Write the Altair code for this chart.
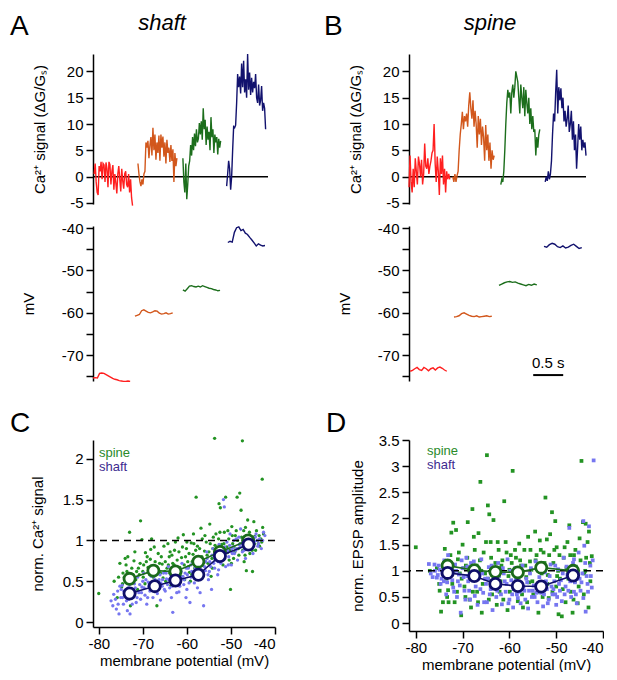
import altair as alt
import pandas as pd

FONT = "Liberation Sans"

# ---------------- Panels A / B : example traces ----------------
TRACE_IDS = ["red", "orange", "green", "navy"]
TRACE_COLORS = ["#ff1f1f", "#d2571c", "#1c6e1c", "#12126e"]

# A (shaft) Ca2+ signal, dG/Gs
CA_SHAFT = [
    [0.5, 2.5, -1, -3, -3.5, 2, 1, 2.8, -0.5, 2.5, 2.2, -1, 2.7, 1.5, -2, 2.8, 2.3, -1.5, 1, 2.2,
     -2.5, 0.5, -1.2, -3.2, 0.5, 2, -0.5, -2.8, 1.5, -0.8, -2.3, 0.5, 1, -1.5, -2, 0.5, -3, -0.5, -4, -5.5],
    [2.5, 0.5, -1, -1.8, -0.5, -1.5, 0.5, 1, 6.5, 5.5, 6.8, 3.5, 6, 7.5, 4, 9.3, 5, 8, 3.2, 6.5,
     4.5, 7.8, 3, 8, 5.5, 7.6, 3.8, 6.5, 2.5, 7, 4.5, 5.5, 2.8, 6, 3, 5.2, -1, 4.5, 2, 3.5],
    [3.5, -1, -3, 2.5, -4.3, -1.5, 2, 3, 6, 4, 7.5, 5, 8.2, 5.8, 9, 6.5, 7.2, 10.2, 8, 10.5,
     7, 13, 9, 10.8, 6, 9.5, 7, 8.5, 5, 11.3, 7.5, 9, 4.5, 8, 6.5, 7.5, 4.2, 7.2, 5.5, 6.8],
    [-1.8, 0.5, 3, 1.5, -2.5, 0, 5, 9.5, 9.3, 9.8, 14, 19.5, 17, 19, 15.8, 21.5, 17, 22, 16, 18.5,
     15, 23.3, 16.5, 19.8, 15.5, 18.8, 16, 18, 16.8, 19.5, 15, 14, 17.5, 13.5, 14.5, 17.2, 12.5, 14, 13, 9],
]
CA_SHAFT_T = [(0.02, 0.66), (0.75, 1.40), (1.50, 2.13), (2.23, 2.88)]

# B (spine) Ca2+ signal
CA_SPINE = [
    [-2, 4, -1, -3, 1.5, -2, 3.5, 1, -1.5, 3.8, 2.5, 0, 3.2, -1.5, 0.5, 6.3, 2, 1.5, 3.5, 0.5,
     2, 3, 4.5, 5, 10, 2.5, -1, 3.8, 1, -3.5, 3.5, 0.5, 4, -1.5, 1.5, -3, 1, -0.5, 0.5, -0.5],
    [0, -1, 0.5, -1, 0.2, 1, 5, 8, 10, 12.3, 9, 11.5, 10.5, 12, 9.5, 13.5, 16, 13, 11, 14.5,
     9.5, 12.5, 10, 5.5, 11.5, 8, 11, 6, 9.5, 7.5, 3, 9.8, 5, 8, 3, 6.5, 1.5, 5, 3.2, 4],
    [-1.5, -0.5, -1, 1, 5, 10, 14, 16.5, 15, 16, 12, 16, 17.5, 15, 17, 20, 19, 18, 15, 12,
     17.5, 15, 13, 17, 11.5, 16.5, 14, 12, 15, 10, 13, 9, 11.5, 8.5, 9, 4, 7.5, 5.5, 8, 9],
    [-1, 0, -0.8, 1, -0.5, 0.5, 3, 8, 12, 10.5, 16, 20.3, 12, 17, 14.5, 16.8, 13, 15, 10.5, 12.5,
     9.5, 11, 13.5, 8.5, 10, 12.5, 7, 10.5, 5, 8, 1.5, 5.5, 10, 7, 9.5, 5, 7, 5.5, 6.5, 4],
]
CA_SPINE_T = [(0.0, 0.68), (0.73, 1.42), (1.53, 2.18), (2.27, 2.95)]

# membrane potential traces (mV)
MV_SHAFT = [
    [-75.4, -75.3, -75.4, -74.3, -74.2, -74.3, -74.6, -74.9, -75.2, -75.5, -75.7, -75.8, -76.0, -76.1, -76.2, -76.2, -76.1, -76.2],
    [-60.8, -60.6, -60.4, -59.5, -59.3, -59.6, -59.9, -60.0, -59.8, -59.5, -59.6, -60.1, -60.3, -60.2, -60.0, -60.3, -60.2, -60.0],
    [-54.6, -54.9, -54.3, -53.7, -53.6, -53.8, -53.9, -53.7, -53.9, -53.6, -53.8, -54.0, -54.2, -54.3, -54.5, -54.6, -54.8, -54.7],
    [-43.4, -43.1, -43.3, -41.0, -39.9, -39.7, -40.6, -40.3, -41.2, -41.5, -42.2, -42.8, -43.5, -44.2, -43.7, -44.0, -44.2, -44.1],
]
MV_SHAFT_T = [(0.0, 0.62), (0.70, 1.33), (1.50, 2.12), (2.25, 2.87)]

MV_SPINE = [
    [-73.8, -73.6, -73.2, -72.9, -73.4, -73.6, -72.9, -73.2, -73.7, -73.2, -73.0, -73.5, -73.0, -72.8, -73.1, -73.5, -73.8],
    [-61.0, -60.9, -60.7, -60.2, -60.0, -60.3, -60.6, -60.8, -60.9, -60.7, -61.0, -60.9, -60.8, -60.7, -60.9, -60.8],
    [-53.5, -53.2, -52.9, -52.7, -52.6, -52.8, -52.7, -53.0, -53.2, -53.4, -53.6, -53.3, -53.5, -53.2, -53.4],
    [-44.3, -44.5, -43.9, -43.6, -43.8, -44.4, -44.6, -44.2, -44.7, -44.5, -44.1, -43.8, -44.3, -44.8, -44.6],
]
MV_SPINE_T = [(0.02, 0.63), (0.75, 1.38), (1.50, 2.13), (2.25, 2.88)]

SCALE_BAR_T = [2.07, 2.57]
SCALE_BAR_MV = -74.7
SCALE_BAR_LABEL = "0.5 s"
SCALE_BAR_LABEL_MV = -73.1

# ---------------- Panel C : norm. Ca2+ signal vs membrane potential ----------------
C_SPINE_X = [-80.0, -76.5, -75.8, -75.2, -74.8, -74.5, -74.0, -73.6, -73.2, -73.0, -72.8, -72.5, -72.0, -71.6, -71.2,
             -70.8, -70.5, -70.2, -69.8, -69.5, -69.0, -68.6, -68.2, -68.0, -67.6, -67.2, -66.8, -66.5, -66.0, -65.6,
             -65.2, -64.8, -64.5, -64.0, -63.6, -63.2, -62.8, -62.4, -62.0, -61.6, -61.2, -60.8, -60.5, -60.1, -59.8,
             -59.4, -59.0, -58.6, -58.2, -57.9, -57.6, -57.2, -56.8, -56.4, -56.0, -55.6, -55.2, -54.8, -54.5, -54.1,
             -53.7, -53.4, -53.0, -52.7, -52.4, -52.1, -51.8, -51.5, -51.2, -50.8, -50.5, -50.1, -49.8, -49.4, -49.0,
             -48.6, -48.3, -48.0, -47.7, -47.4, -47.1, -46.8, -46.5, -46.2, -45.9, -45.5, -45.1, -44.8, -44.4, -44.0,
             -43.5, -42.9, -42.6,
             -74.2, -73.8, -72.2, -71.0, -70.0, -69.2, -68.4, -67.0, -66.2, -65.0, -64.2, -63.0, -62.2, -61.4, -60.3,
             -59.6, -58.8, -58.0, -57.4, -56.6, -55.8, -55.0, -54.3, -53.6, -52.9, -52.2, -51.6, -50.9, -50.3, -49.6,
             -49.1, -48.5, -47.9, -47.3, -46.6, -46.0, -45.3, -44.6, -43.8, -43.2, -61.0, -63.8, -66.6, -59.2, -56.9,
             -52.5, -54.0, -49.9, -47.0, -45.7,
             -75.5, -74.6, -73.4, -72.6, -71.8, -71.4, -70.6, -69.9, -69.4, -68.8, -68.3, -67.8, -67.4, -66.9, -66.4,
             -65.8, -65.4, -64.9, -64.3, -63.9, -63.4, -62.9, -62.6, -61.8, -61.3, -60.6, -60.0, -59.5, -58.9, -58.4,
             -57.8, -57.1, -56.5, -56.1, -55.4, -54.7, -54.2, -53.3, -52.8, -52.0, -51.4, -50.7, -50.4, -49.7, -49.3,
             -48.8, -48.2, -47.6, -47.2, -46.7, -46.3, -45.8, -45.2, -44.7, -44.2, -43.6, -43.0, -42.8, -55.9, -58.5]
C_SPINE_Y = [0.35, 0.50, 0.30, 0.72, 0.43, 0.60, 0.78, 0.62, 0.48, 1.10, 0.20, 0.66, 0.75, 0.52, 0.40,
             0.58, 1.24, 1.01, 0.70, 0.47, 0.80, 0.63, 0.89, 1.02, 0.55, 0.74, 0.20, 0.84, 0.60, 0.71,
             0.93, 0.50, 0.66, 0.80, 0.45, 0.72, 0.88, 0.58, 1.03, 0.67, 0.79, 1.07, 0.52, 0.90, 0.74,
             0.61, 0.97, 0.83, 0.66, 1.53, 0.93, 0.77, 1.15, 0.62, 0.87, 0.98, 0.72, 1.20, 0.56, 0.90,
             2.25, 1.08, 0.80, 1.45, 1.40, 0.95, 0.70, 1.10, 1.53, 0.85, 1.02, 0.40, 1.17, 0.78, 1.06,
             1.53, 0.90, 1.58, 1.37, 2.22, 1.12, 0.82, 0.63, 1.25, 0.96, 1.05, 0.62, 1.23, 0.88, 1.00,
             0.93, 1.75, 1.08,
             0.55, 0.70, 0.58, 0.66, 0.62, 0.74, 0.58, 0.66, 0.72, 0.62, 0.70, 0.64, 0.76, 0.60, 0.80,
             0.68, 0.74, 0.88, 0.70, 0.80, 0.74, 0.86, 0.78, 0.94, 0.88, 0.82, 0.96, 0.92, 0.88, 0.96,
             0.86, 1.00, 0.96, 0.88, 1.02, 0.90, 0.98, 1.05, 0.96, 1.02, 0.92, 0.86, 0.50, 0.50, 0.56,
             1.10, 1.04, 0.72, 0.74, 0.84,
             0.55, 0.47, 0.80, 0.52, 0.86, 0.62, 0.72, 0.55, 0.85, 0.67, 0.77, 0.48, 0.92, 0.68, 0.62,
             0.80, 0.54, 0.74, 0.96, 0.60, 0.82, 0.70, 0.98, 0.86, 0.56, 0.70, 0.98, 0.84, 0.58, 0.96,
             0.78, 0.90, 1.02, 0.74, 0.82, 0.96, 0.66, 0.86, 1.02, 0.76, 0.86, 1.12, 0.76, 1.06, 0.92,
             1.12, 0.82, 1.04, 0.96, 1.16, 0.92, 1.10, 0.88, 0.96, 1.12, 1.06, 0.98, 1.16, 1.06, 1.08]

C_SHAFT_X = [-77.2, -76.6, -76.0, -75.7, -75.4, -75.0, -74.7, -74.4, -74.1, -73.8, -73.5, -73.2, -72.9, -72.6, -72.2,
             -71.9, -71.5, -71.2, -70.9, -70.5, -70.2, -69.8, -69.5, -69.1, -68.8, -68.4, -68.1, -67.7, -67.4, -67.0,
             -66.7, -66.3, -66.0, -65.6, -65.3, -64.9, -64.6, -64.2, -63.9, -63.5, -63.2, -62.8, -62.5, -62.1, -61.8,
             -61.4, -61.1, -60.7, -60.4, -60.0, -59.7, -59.3, -59.0, -58.6, -58.3, -57.9, -57.6, -57.2, -56.9, -56.5,
             -56.2, -55.8, -55.5, -55.1, -54.8, -54.4, -54.1, -53.7, -53.4, -53.0, -52.7, -52.3, -52.0, -51.7, -51.5,
             -51.2, -50.9, -50.5, -50.2, -49.9, -49.5, -49.2, -48.8, -48.5, -48.1, -47.8, -47.4, -47.1, -46.7, -46.4,
             -46.0, -45.7, -45.3, -45.0, -44.6, -44.3, -43.9, -43.5, -43.1, -42.6, -42.3,
             -74.9, -73.0, -71.8, -70.0, -68.6, -67.2, -65.9, -64.4, -63.0, -61.9, -60.9, -59.9, -58.9, -57.8, -56.7,
             -55.7, -54.6, -53.6, -52.6, -51.9, -50.8, -49.8, -48.9, -47.9, -46.9, -45.9, -44.9, -44.0, -62.3, -60.2,
             -57.0, -55.2, -52.8, -50.6,
             -76.8, -76.2, -75.6, -75.2, -74.6, -74.3, -73.7, -73.3, -72.7, -72.4, -71.7, -71.3, -70.7, -70.3, -69.7,
             -69.3, -68.9, -68.3, -67.9, -67.5, -66.9, -66.5, -66.1, -65.5, -65.1, -64.7, -64.1, -63.7, -63.3, -62.7,
             -62.0, -61.6, -61.3, -60.6, -60.1, -59.5, -59.1, -58.5, -58.1, -57.5, -57.1, -56.6, -56.0, -55.4, -54.9,
             -54.3, -53.9, -53.3, -52.9, -52.4, -51.8, -51.4, -50.7, -50.3, -49.7, -49.3, -48.7, -48.2, -47.6, -47.0,
             -46.5, -45.5, -44.5, -43.7, -42.8]
C_SHAFT_Y = [0.26, 0.34, 0.16, 0.38, 0.10, 0.30, 0.45, 0.22, 0.52, 0.36, 0.14, 0.28, 0.10, 0.40, 0.32,
             0.47, 0.24, 0.55, 0.36, 0.28, 0.43, 0.60, 0.33, 0.22, 0.49, 0.38, 0.56, 0.30, 0.45, 0.62,
             0.35, 0.52, 0.27, 0.44, 0.60, 0.38, 0.53, 0.68, 0.42, 0.30, 0.12, 0.57, 0.47, 0.64, 0.37,
             0.54, 0.72, 0.46, 0.60, 0.40, 0.66, 0.24, 0.55, 0.73, 0.48, 0.62, 0.42, 0.80, 0.56, 0.70,
             0.20, 0.63, 0.86, 0.52, 0.74, 0.40, 0.90, 0.66, 0.80, 0.58, 0.95, 0.72, 0.86, 1.50, 1.41,
             0.68, 0.98, 0.80, 1.08, 0.70, 0.92, 0.84, 1.02, 0.76, 0.95, 1.14, 0.86, 1.00, 0.78, 1.06,
             0.90, 0.97, 1.04, 0.84, 0.99, 1.08, 0.93, 1.02, 0.90, 1.10, 1.06,
             0.40, 0.46, 0.36, 0.50, 0.44, 0.52, 0.48, 0.46, 0.50, 0.48, 0.56, 0.58, 0.62, 0.54, 0.64,
             0.74, 0.68, 0.76, 0.82, 0.78, 0.88, 0.90, 0.88, 0.92, 0.94, 1.00, 0.96, 1.00, 0.36, 0.30,
             0.36, 0.58, 0.64, 0.70,
             0.20, 0.28, 0.22, 0.44, 0.30, 0.38, 0.26, 0.42, 0.30, 0.22, 0.42, 0.30, 0.46, 0.36, 0.42,
             0.52, 0.30, 0.48, 0.40, 0.56, 0.44, 0.40, 0.58, 0.52, 0.40, 0.60, 0.52, 0.58, 0.44, 0.64,
             0.54, 0.44, 0.62, 0.52, 0.66, 0.48, 0.70, 0.58, 0.66, 0.72, 0.60, 0.76, 0.68, 0.78, 0.62,
             0.82, 0.72, 0.88, 0.74, 0.90, 0.82, 0.92, 0.86, 0.94, 0.84, 1.00, 0.90, 1.04, 0.96, 0.88,
             1.00, 0.92, 1.04, 0.96, 1.00]

C_SPINE_MEAN_X = [-73.0, -67.6, -62.6, -57.4, -52.5, -46.1]
C_SPINE_MEAN_Y = [0.53, 0.63, 0.62, 0.74, 0.86, 1.00]
C_SHAFT_MEAN_X = [-73.0, -67.3, -62.6, -57.4, -52.5, -46.0]
C_SHAFT_MEAN_Y = [0.35, 0.44, 0.51, 0.58, 0.81, 0.95]
C_SEM_Y = [0.05, 0.04, 0.04, 0.04, 0.05, 0.05]
C_SEM_X = [0.9, 0.8, 0.8, 0.8, 0.9, 0.9]

# ---------------- Panel D : norm. EPSP amplitude vs membrane potential ----------------
D_SPINE_X = [-80.0, -77.0, -75.0, -74.6, -74.2, -73.8, -73.5, -73.1, -72.8, -72.4, -72.0, -71.7, -71.4, -71.0, -70.6,
             -70.3, -70.0, -69.6, -69.3, -68.9, -68.5, -68.2, -67.9, -67.6, -67.2, -66.9, -66.6, -66.2, -65.9, -65.5,
             -65.2, -64.8, -64.6, -64.3, -64.0, -63.7, -63.4, -63.0, -62.7, -62.3, -61.9, -61.5, -61.1, -60.8, -60.4,
             -60.0, -59.7, -59.3, -59.0, -58.6, -58.2, -57.9, -57.5, -57.1, -56.8, -56.4, -56.0, -55.6, -55.3, -54.9,
             -54.5, -54.2, -53.8, -53.5, -53.1, -52.7, -52.3, -52.0, -51.6, -51.3, -50.9, -50.6, -50.2, -49.9, -49.5,
             -49.2, -48.8, -48.4, -48.0, -47.6, -47.2, -46.9, -46.5, -46.2, -45.8, -45.4, -45.0, -44.6, -44.3, -44.0,
             -43.7, -43.3, -43.0, -42.7, -42.4,
             -73.0, -71.9, -69.8, -67.0, -64.6, -62.0, -60.2, -58.0, -55.8, -53.6, -51.8, -49.6, -47.8, -45.5, -43.8,
             -66.0, -63.2, -57.3, -50.0, -46.0,
             -75.5, -74.9, -74.0, -73.3, -72.6, -72.2, -71.2, -70.8, -70.2, -69.4, -69.0, -68.3, -67.8, -67.4, -66.7,
             -66.3, -65.7, -65.0, -64.4, -63.9, -63.4, -62.5, -62.1, -61.7, -61.3, -60.6, -59.9, -59.5, -58.8, -58.4,
             -57.7, -57.3, -56.6, -56.2, -55.5, -55.1, -54.4, -53.9, -53.3, -52.9, -52.5, -51.9, -51.5, -50.8, -50.4,
             -49.8, -49.3, -48.6, -48.2, -47.4, -47.0, -46.3, -45.9, -45.2, -44.8, -44.1, -43.6, -43.1, -42.8]
D_SPINE_Y = [1.45, 1.00, 0.75, 0.22, 0.40, 1.42, 0.85, 0.63, 1.05, 1.73, 1.92, 0.40, 1.78, 1.22, 0.95,
             0.15, 1.50, 0.70, 1.10, 1.93, 0.45, 0.30, 2.18, 1.65, 0.88, 0.60, 1.72, 2.70, 0.20, 1.35,
             0.95, 3.21, 2.25, 2.08, 1.55, 0.55, 1.97, 1.15, 0.35, 1.40, 0.80, 1.20, 2.33, 1.55, 0.25,
             1.02, 1.30, 2.91, 0.65, 1.25, 0.42, 1.52, 1.10, 0.30, 1.40, 0.88, 1.65, 1.18, 1.02, 0.55,
             1.75, 1.30, 0.20, 1.58, 0.95, 1.35, 2.40, 1.60, 0.48, 1.70, 2.12, 1.15, 1.95, 1.45, 0.17,
             0.85, 0.13, 1.25, 0.40, 1.55, 1.87, 0.60, 0.20, 1.30, 1.08, 0.38, 1.62, 3.10, 1.93, 0.95,
             1.90, 1.55, 1.75, 0.80, 1.28,
             0.40, 1.00, 1.05, 1.10, 0.85, 1.05, 0.90, 0.95, 0.78, 1.12, 0.92, 1.00, 1.05, 0.92, 1.00,
             1.00, 0.70, 0.70, 0.70, 0.80,
             1.05, 0.62, 1.15, 0.50, 1.30, 0.75, 0.60, 1.35, 0.85, 0.50, 1.25, 0.95, 0.60, 1.40, 0.40,
             1.20, 0.75, 1.55, 0.45, 1.25, 0.90, 1.55, 0.60, 1.10, 0.45, 1.35, 0.60, 1.15, 1.40, 0.75,
             1.20, 0.55, 1.10, 0.40, 1.40, 0.80, 1.20, 0.60, 1.40, 0.50, 1.15, 0.75, 1.30, 0.60, 1.40,
             0.90, 1.30, 0.65, 1.45, 0.85, 1.30, 0.45, 1.40, 0.70, 1.20, 0.55, 1.25, 0.30, 1.15]

D_SHAFT_X = [-77.2, -76.4, -75.9, -75.5, -75.1, -74.7, -74.3, -73.9, -73.5, -73.1, -72.8, -72.4, -72.0, -71.6, -71.2,
             -70.8, -70.4, -70.0, -69.6, -69.2, -68.8, -68.4, -68.0, -67.6, -67.2, -66.8, -66.4, -66.0, -65.6, -65.2,
             -64.8, -64.4, -64.0, -63.6, -63.2, -62.8, -62.4, -62.0, -61.6, -61.2, -60.8, -60.4, -60.0, -59.6, -59.2,
             -58.8, -58.4, -58.0, -57.6, -57.2, -56.8, -56.4, -56.0, -55.6, -55.2, -54.8, -54.4, -54.0, -53.6, -53.2,
             -52.8, -52.4, -52.0, -51.6, -51.2, -50.8, -50.4, -50.0, -49.6, -49.2, -48.8, -48.4, -48.0, -47.6, -47.2,
             -46.8, -46.4, -46.0, -45.6, -45.2, -44.8, -44.4, -44.0, -43.7, -43.3, -43.0, -42.7, -42.4, -42.0, -44.2,
             -74.0, -71.0, -69.0, -67.0, -65.0, -63.0, -61.0, -59.0, -57.0, -55.0, -53.0, -51.0, -49.0, -47.0, -45.0,
             -43.5, -62.6, -58.2, -54.2, -50.2, -46.2,
             -76.8, -76.0, -75.3, -74.9, -74.5, -73.7, -73.3, -72.6, -72.2, -71.8, -71.4, -70.6, -70.2, -69.8, -69.4,
             -69.0, -68.6, -68.2, -67.8, -67.4, -66.6, -66.2, -65.8, -65.4, -64.6, -64.2, -63.8, -63.4, -62.2, -61.8,
             -61.4, -60.6, -60.2, -59.8, -59.4, -58.6, -57.8, -57.4, -56.6, -56.2, -55.8, -55.4, -54.6, -53.8, -53.4,
             -52.6, -52.2, -51.8, -51.4, -50.6, -50.2, -49.8, -49.4, -48.6, -48.2, -47.8, -47.4, -46.6, -46.2, -45.8,
             -45.4, -44.6, -44.2, -43.8, -43.2, -42.6, -42.2]
D_SHAFT_Y = [1.13, 0.88, 1.00, 0.87, 1.10, 0.75, 0.95, 1.20, 0.55, 1.30, 0.88, 1.00, 0.68, 1.12, 0.50,
             0.93, 0.20, 1.05, 0.62, 1.25, 0.80, 0.45, 0.98, 1.18, 0.70, 0.35, 0.92, 1.22, 0.58, 0.85,
             0.40, 1.07, 0.65, 0.25, 0.90, 0.50, 1.15, 0.72, 0.36, 0.95, 0.60, 1.22, 0.45, 0.82, 0.30,
             1.05, 0.55, 0.77, 0.38, 1.10, 0.62, 0.85, 0.28, 0.95, 0.50, 0.72, 1.18, 0.40, 0.88, 0.58,
             0.32, 0.97, 0.65, 0.45, 1.12, 0.55, 0.80, 0.35, 1.03, 0.62, 0.42, 1.25, 0.70, 0.92, 1.82,
             0.50, 1.15, 0.78, 0.38, 1.35, 0.62, 0.95, 1.48, 0.22, 0.75, 1.85, 1.10, 0.68, 3.11, 1.95,
             0.80, 0.80, 0.90, 0.85, 0.75, 0.78, 0.80, 0.65, 0.70, 0.62, 0.75, 0.70, 0.82, 0.80, 0.85,
             0.90, 0.62, 0.48, 0.58, 0.55, 0.60,
             0.95, 1.12, 0.92, 1.02, 0.85, 1.05, 0.78, 1.15, 0.82, 0.60, 1.00, 0.72, 1.20, 0.88, 0.45,
             1.08, 0.62, 1.15, 0.82, 0.52, 1.05, 0.65, 0.95, 0.40, 0.85, 0.55, 1.10, 0.70, 0.90, 0.55,
             1.05, 0.75, 0.38, 1.00, 0.55, 0.85, 0.60, 0.95, 0.45, 0.78, 0.62, 1.05, 0.50, 0.68, 1.02,
             0.55, 0.80, 0.38, 0.90, 0.65, 1.10, 0.50, 0.75, 0.95, 0.55, 1.08, 0.62, 0.88, 1.22, 0.55,
             0.92, 0.78, 0.48, 1.15, 0.60, 0.90, 1.20]

D_SPINE_MEAN_X = [-73.2, -67.5, -63.0, -58.2, -53.2, -46.4]
D_SPINE_MEAN_Y = [1.10, 1.01, 0.98, 0.97, 1.06, 1.00]
D_SHAFT_MEAN_X = [-73.2, -67.5, -63.0, -58.2, -53.2, -46.4]
D_SHAFT_MEAN_Y = [0.96, 0.90, 0.75, 0.71, 0.70, 0.91]
D_SEM_Y = [0.08, 0.07, 0.07, 0.07, 0.08, 0.08]
D_SEM_X = [0.9, 0.8, 0.8, 0.8, 0.9, 0.9]

MV_TICKS = [-80, -70, -60, -50, -40]

# ---------------- styles ----------------
SPINE_PT = "#239323"
SHAFT_PT = "#7676f0"
SPINE_DARK = "#1b6a1b"
SHAFT_DARK = "#0e0e68"
SPINE_TXT = "#2a8a2a"
SHAFT_TXT = "#3d2b8f"
PLAIN = "'' + datum.value"


def trace_df(values, times):
    rows = []
    for name, vals, (t0, t1) in zip(TRACE_IDS, values, times):
        n = len(vals)
        for i, v in enumerate(vals):
            rows.append({"trace": name, "i": i, "t": t0 + (t1 - t0) * i / (n - 1), "v": v})
    return pd.DataFrame(rows)


def label(text, x, y, size, style="normal", color="black", align="left"):
    return alt.Chart(pd.DataFrame({"s": [text]})).mark_text(
        fontSize=size, font=FONT, fontStyle=style, color=color, align=align, baseline="alphabetic"
    ).encode(text="s:N", x=alt.value(x), y=alt.value(y))


def trace_panel(values, times, tmax, width, height, ydom, yvals, ytitle, title_x, label_expr,
                zero_line=False, scale_bar=False, extra=()):
    df = trace_df(values, times)
    xs = alt.Scale(domain=[0, tmax], nice=False, zero=False)
    ys = alt.Scale(domain=ydom, nice=False, zero=False)
    yax = alt.Axis(values=yvals, title=ytitle, titleX=title_x, titleY=height / 2,
                   labelExpr=label_expr, labelOverlap=False)
    X = alt.X("t:Q", scale=xs, axis=None)
    Y = alt.Y("v:Q", scale=ys, axis=yax)
    layers = []
    if zero_line:
        layers.append(alt.Chart(pd.DataFrame({"v": [0]})).mark_rule(color="black", strokeWidth=1.5).encode(y=Y))
    layers.append(alt.Chart(df).mark_line(strokeWidth=1.4).encode(
        x=X, y=Y, order="i:Q", detail="trace:N",
        color=alt.Color("trace:N", scale=alt.Scale(domain=TRACE_IDS, range=TRACE_COLORS), legend=None),
    ))
    if scale_bar:
        bar = pd.DataFrame({"t": [SCALE_BAR_T[0]], "t2": [SCALE_BAR_T[1]], "v": [SCALE_BAR_MV]})
        layers.append(alt.Chart(bar).mark_rule(color="black", strokeWidth=2).encode(x=X, x2="t2", y=Y))
        lab = pd.DataFrame({"t": [(SCALE_BAR_T[0] + SCALE_BAR_T[1]) / 2], "v": [SCALE_BAR_LABEL_MV],
                            "s": [SCALE_BAR_LABEL]})
        layers.append(alt.Chart(lab).mark_text(fontSize=15, font=FONT, align="center", baseline="alphabetic")
                      .encode(x=X, y=Y, text="s:N"))
    layers += list(extra)
    return alt.layer(*layers).properties(width=width, height=height)


# --- A / B Ca panels
CA_W_A, CA_W_B, CA_H = 175, 177, 150
ca_dom = [-5.2, 23.3]
ca_vals = [-5, 0, 5, 10, 15, 20]
ca_title = "Ca²⁺ signal (ΔG/Gₛ)"

a_ca = trace_panel(CA_SHAFT, CA_SHAFT_T, 2.92, CA_W_A, CA_H, ca_dom, ca_vals, ca_title, -46, PLAIN,
                   zero_line=True,
                   extra=(label("A", -83, -19, 28), label("shaft", 69, -24, 22, style="italic", align="center")))
b_ca = trace_panel(CA_SPINE, CA_SPINE_T, 2.95, CA_W_B, CA_H, ca_dom, ca_vals, ca_title, -46, PLAIN,
                   zero_line=True,
                   extra=(label("B", -85, -19, 28), label("spine", 81, -24, 22, style="italic", align="center")))

# --- A / B mV panels
MV_H = 155
mv_dom = [-76.1, -39.5]
mv_vals = [-75, -70, -65, -60, -55, -50, -45, -40]
mv_expr = "datum.value % 10 == 0 ? '' + datum.value : ''"

a_mv = trace_panel(MV_SHAFT, MV_SHAFT_T, 2.92, CA_W_A, MV_H, mv_dom, mv_vals, "mV", -57, mv_expr)
b_mv = trace_panel(MV_SPINE, MV_SPINE_T, 2.95, CA_W_B, MV_H, mv_dom, mv_vals, "mV", -57, mv_expr,
                   scale_bar=True)


# --- C / D scatter panels
def scatter_panel(sx, sy, hx, hy, msx, msy, mhx, mhy, semy, semx, xdom, ydom, width, height,
                  yvals, ytitle, title_x, shape, pt_size, letter, leg_x, leg_y):
    xs = alt.Scale(domain=xdom, nice=False, zero=False)
    ys = alt.Scale(domain=ydom, nice=False, zero=False)
    xax = alt.Axis(values=MV_TICKS, title="membrane potential (mV)", labelExpr=PLAIN,
                   titlePadding=2, labelPadding=2, labelOverlap=False)
    yax = alt.Axis(values=yvals, title=ytitle, labelExpr=PLAIN, titleX=title_x, titleY=height / 2,
                   labelOverlap=False)

    def X(f):
        return alt.X(f, type="quantitative", scale=xs, axis=xax)

    def Y(f):
        return alt.Y(f, type="quantitative", scale=ys, axis=yax)

    sp = pd.DataFrame({"x": sx, "y": sy})
    sh = pd.DataFrame({"x": hx, "y": hy})
    layers = [
        alt.Chart(sp).mark_point(shape=shape, filled=True, size=pt_size, color=SPINE_PT, opacity=1).encode(x=X("x"), y=Y("y")),
        alt.Chart(sh).mark_point(shape=shape, filled=True, size=pt_size, color=SHAFT_PT, opacity=1).encode(x=X("x"), y=Y("y")),
        alt.Chart(pd.DataFrame({"y": [1]})).mark_rule(color="black", strokeWidth=1.5, strokeDash=[7, 5]).encode(y=Y("y")),
    ]
    for mx, my, col in ((msx, msy, SPINE_DARK), (mhx, mhy, SHAFT_DARK)):
        m = pd.DataFrame({"x": mx, "y": my, "ey": semy, "ex": semx})
        m["ylo"] = m["y"] - m["ey"]
        m["yhi"] = m["y"] + m["ey"]
        m["xlo"] = m["x"] - m["ex"]
        m["xhi"] = m["x"] + m["ex"]
        layers += [
            alt.Chart(m).mark_line(color=col, strokeWidth=1.6).encode(x=X("x"), y=Y("y")),
            alt.Chart(m).mark_rule(color=col, strokeWidth=1.6).encode(x=X("x"), y=Y("ylo"), y2="yhi"),
            alt.Chart(m).mark_rule(color=col, strokeWidth=1.6).encode(x=X("xlo"), x2="xhi", y=Y("y")),
            alt.Chart(m).mark_point(shape="circle", filled=True, fill="white", stroke=col, strokeWidth=2.8,
                                    size=125, opacity=1).encode(x=X("x"), y=Y("y")),
        ]
    layers += [
        label(letter, -83, -8, 28),
        label("spine", leg_x, leg_y, 13, color=SPINE_TXT),
        label("shaft", leg_x, leg_y + 14, 13, color=SHAFT_TXT),
    ]
    return alt.layer(*layers).properties(width=width, height=height)


c_panel = scatter_panel(C_SPINE_X, C_SPINE_Y, C_SHAFT_X, C_SHAFT_Y,
                        C_SPINE_MEAN_X, C_SPINE_MEAN_Y, C_SHAFT_MEAN_X, C_SHAFT_MEAN_Y, C_SEM_Y, C_SEM_X,
                        [-81.3, -40], [-0.06, 2.23], 182, 187, [0, 0.5, 1, 1.5, 2],
                        "norm. Ca²⁺ signal", -48, "circle", 11, "C", 6, 17)

d_panel = scatter_panel(D_SPINE_X, D_SPINE_Y, D_SHAFT_X, D_SHAFT_Y,
                        D_SPINE_MEAN_X, D_SPINE_MEAN_Y, D_SHAFT_MEAN_X, D_SHAFT_MEAN_Y, D_SEM_Y, D_SEM_X,
                        [-81.45, -40], [-0.15, 3.5], 194, 191, [0, 0.5, 1, 1.5, 2, 2.5, 3, 3.5],
                        "norm. EPSP amplitude", -44, "square", 14, "D", 18, 15)


def spacer():
    return alt.Chart(pd.DataFrame({"k": [0]})).mark_point(opacity=0).encode(
        x=alt.value(0), y=alt.value(0)).properties(width=1, height=15)


chart = alt.concat(
    a_ca, b_ca, a_mv, b_mv, spacer(), spacer(), c_panel, d_panel,
    columns=2, spacing={"row": 22, "column": 134}, bounds="flush", align="each",
).properties(
    padding={"left": 2, "top": 4, "right": 0, "bottom": 0}, background="white"
).configure_view(stroke=None).configure_axis(
    domainColor="black", domainWidth=1.5, tickColor="black", tickWidth=1.5, tickSize=7,
    labelFont=FONT, labelFontSize=15, labelColor="black", labelPadding=3, labelOverlap=False,
    titleFont=FONT, titleFontSize=15, titleFontWeight="normal", titleColor="black", grid=False,
)

chart.save("out.html", embed_options={"renderer": "svg", "actions": False})
